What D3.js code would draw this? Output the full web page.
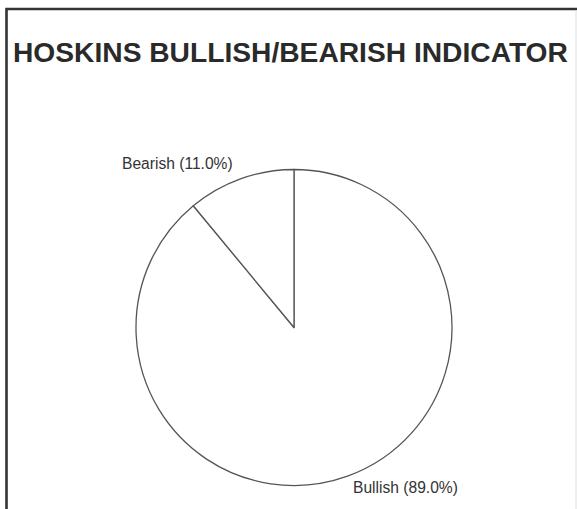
<!DOCTYPE html>
<html>
<head>
<meta charset="utf-8">
<script src="https://cdn.jsdelivr.net/npm/d3@7"></script>
<style>
  html, body { margin: 0; padding: 0; background: #fff; }
  svg { display: block; }
</style>
</head>
<body>
<svg id="chart" width="577" height="509"></svg>
<script>
const categories = ["Bullish", "Bearish"];
const values = [89.0, 11.0];
const title = "HOSKINS BULLISH/BEARISH INDICATOR";

const svg = d3.select("#chart");
const W = 577, H = 509;

// frame
svg.append("rect").attr("x", 0).attr("y", 0).attr("width", W).attr("height", H).attr("fill", "#fff");
svg.append("path")
  .attr("d", `M6.5,${H} L6.5,9 L${W},9`)
  .attr("fill", "none").attr("stroke", "#333").attr("stroke-width", 2.6);
svg.append("line").attr("x1", 576).attr("x2", 576).attr("y1", 10).attr("y2", H)
  .attr("stroke", "#ddd").attr("stroke-width", 1);

// title
svg.append("text")
  .attr("x", 13).attr("y", 62)
  .attr("font-family", "Liberation Sans, Arial, Helvetica, sans-serif")
  .attr("font-weight", "bold").attr("font-size", 28.2)
  .attr("fill", "#2a2a2a")
  .text(title);

// pie
const cx = 294, cy = 327.5, r = 158;
const data = categories.map((c, i) => ({ name: c, value: values[i] }));
const pie = d3.pie().value(d => d.value).sort(null)
  .startAngle(0).endAngle(2 * Math.PI);
const arcs = pie(data);
const arc = d3.arc().innerRadius(0).outerRadius(r);

const g = svg.append("g").attr("transform", `translate(${cx},${cy})`);
g.selectAll("path.slice").data(arcs).join("path")
  .attr("class", "slice")
  .attr("d", arc)
  .attr("fill", "#fff")
  .attr("stroke", "#555")
  .attr("stroke-width", 1.3)
  .attr("stroke-linejoin", "round");

// labels
const labelPos = {
  Bearish: { x: 122 - cx, y: 169 - cy },
  Bullish: { x: 353 - cx, y: 493 - cy }
};
g.selectAll("text.lbl").data(arcs).join("text")
  .attr("class", "lbl")
  .attr("x", d => labelPos[d.data.name].x)
  .attr("y", d => labelPos[d.data.name].y)
  .attr("font-family", "Liberation Sans, Arial, Helvetica, sans-serif")
  .attr("font-size", 15.6)
  .attr("fill", "#333")
  .text(d => `${d.data.name} (${d3.format(".1f")(d.data.value)}%)`);
</script>
</body>
</html>
